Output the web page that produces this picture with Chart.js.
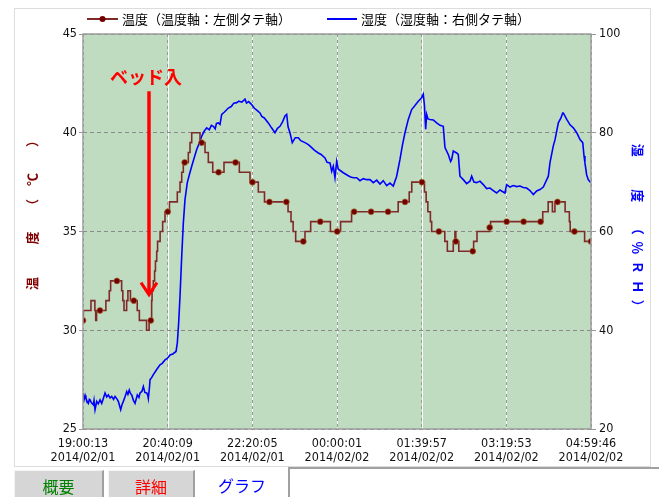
<!DOCTYPE html>
<html><head><meta charset="utf-8">
<script src="https://cdn.jsdelivr.net/npm/chart.js@4/dist/chart.umd.min.js"></script>
<style>
html,body{margin:0;padding:0;background:#fff;}
#wrap{position:relative;width:659px;height:497px;overflow:hidden;background:#fff;}
#c{position:absolute;left:0;top:0;}
.frame{position:absolute;left:14px;top:8px;width:637px;height:459px;border:1px solid #dcdcdc;box-sizing:border-box;}
.tab{position:absolute;top:470px;height:27px;font:16px "Noto Sans CJK JP",sans-serif;text-align:center;line-height:31px;box-sizing:border-box;}
.t1{left:14px;width:90px;background:#d6d6d6;color:#008000;border-top:1px solid #f4f4f4;border-left:1px solid #f4f4f4;border-right:2px solid #a0a0a0;}
.t2{left:108px;width:87px;background:#d6d6d6;color:#ff0000;border-top:1px solid #f4f4f4;border-left:1px solid #f4f4f4;border-right:2px solid #a0a0a0;}
.t3{left:197px;width:90px;background:#fff;color:#0000ff;}
.box{position:absolute;left:288px;top:467px;width:371px;height:30px;border-top:2px solid #a0a0a0;border-left:2px solid #a0a0a0;box-sizing:border-box;background:#fff;}
</style></head>
<body>
<div id="wrap">
<div class="frame"></div>
<canvas id="c" width="659" height="497"></canvas>
<div class="tab t1">概要</div>
<div class="tab t2">詳細</div>
<div class="tab t3">グラフ</div>
<div class="box"></div>
</div>
<script>
// ---- data ----
const tickTimes = ['19:00:13','20:40:09','22:20:05','00:00:01','01:39:57','03:19:53','04:59:46'];
const tickDates = ['2014/02/01','2014/02/01','2014/02/01','2014/02/02','2014/02/02','2014/02/02','2014/02/02'];
const tempTicks = [25, 30, 35, 40, 45];
const humTicks = [20, 40, 60, 80, 100];
const tempLabel = '温度（温度軸：左側タテ軸）';
const humLabel = '湿度（湿度軸：右側タテ軸）';
const tempTitle = '　　　温　　\u2002度　　（　℃　\u2002\u2002）';
const humTitle = '湿　　\u2002度　　（\u2002％\u2002Ｒ\u2002Ｈ\u2002）　';
const bedLabel = 'ベッド入';
// minutes since 19:00:13
const tempMinutes = [0,0.4,9.4,14,15,16,20,27,31,32.6,40,45.6,47,48.4,51.5,53,56,60,64,66.5,75,78,80,
  81,81.5,83,84.5,85.5,87,88,91,94,96.8,100,102,111.3,114.5,116.5,118.4,120,124.3,126.3,128.3,138.1,140,
  144,147.9,153.1,160,166.4,180,184.5,197.1,200,206.9,214.2,220,240,242,245.5,248,251,260,262,268.7,280,
  292,300,304,317,320,340,360,372,380,385,388,400,403,405,407,410,411.5,420,427,430,437,439,440,443.5,
  460,461,465,480,481,500,520,540,542.6,549,554,557,560,569,574,575,580,592,599.5];
const tempValues = [30.5,31.0,31.5,31.0,30.5,31.0,31.0,31.5,32.0,32.5,32.5,32.0,31.5,31.0,31.5,32.0,31.5,31.5,31.0,30.5,30.0,30.5,30.5,
  31.5,32.0,32.5,33.0,33.5,34.0,34.5,35.0,35.5,36.0,36.0,36.5,37.0,37.5,38.0,38.5,38.5,39.0,39.5,40.0,39.5,39.5,
  39.0,38.5,38.0,38.0,38.5,38.5,38.0,37.5,37.5,37.0,36.5,36.5,36.5,36.0,35.5,35.0,34.5,34.5,35.0,35.5,35.5,
  35.0,35.0,35.5,36.0,36.0,36.0,36.0,36.5,36.5,37.0,37.5,37.5,37.0,36.5,36.0,35.5,35.0,35.0,34.5,34.0,34.5,35.0,34.5,34.0,
  34.0,34.5,35.0,35.2,35.5,35.5,35.5,35.5,36.0,36.5,36.0,36.5,36.5,36.0,35.5,35.0,35.0,34.5,34.5];
const humMinutes = [0,1.2,2.5,3.5,5,6.3,7.5,8.3,10,12.2,13,14.2,16.2,18,20.1,22.1,24,26,28,29.9,32,33.9,36,37.8,40,41.7,43,44.5,
  46,47.6,49.5,51.6,53,54.6,56,57.5,59.5,61.4,63,64.1,66,67.3,69.5,71.2,73,75.2,76.5,77.1,78.5,79.1,81,83,86,88,90.9,93.5,
  96.8,99.5,102.7,106,109.8,111.3,112.9,114.5,116.5,118.4,120.4,123.1,125.5,128.3,131,134.2,137,140.1,143,146,149,151.5,
  153.8,156,157.5,159.7,161.7,163.7,167,171.5,175,178,181.4,184,187.5,191.2,193,195.5,199.1,202,205,208.9,211,214,218.7,
  222.5,226.6,229.5,232.5,235.5,238.4,240.4,242,244.3,247,250.5,254.1,257,262,266,269.9,273,277.7,281,285.6,288,291.5,
  293.5,295.4,297.4,299.4,301.3,304,307.2,311.1,315.1,319,323,326.9,330.8,334.8,338.7,342.6,346.6,350.5,354.4,358.4,
  362.3,366.2,370.2,374.1,377,380,383.9,387.9,391.8,395.7,399.7,401.6,403,404.4,405.6,407.2,409.5,413.4,417.4,421.3,
  425.2,427.2,431.1,433.9,435.1,437,441,442.9,444.9,448.8,452.8,456.7,458.7,461.4,464.5,468.5,472.4,476.3,480.3,484.2,
  488.2,492.1,496,498,500,503.9,507.8,511.8,515.7,519.6,523.6,527.5,531.5,535.4,539.3,543.3,547.3,549.2,551.1,555,557.1,
  561,564.1,566.1,566.9,570.9,574.8,578.7,582.7,586.6,589.8,591.3,592.4,594.4,596.3,599.1];
const humValues = [27.3,25.9,26.8,26.2,25.5,25.2,26.0,25.9,25.3,24.9,25.8,23.9,25.6,25.1,25.9,25.2,26.2,27.3,26.5,26.9,26.3,26.6,26.0,26.6,26.1,25.6,24.8,23.9,
  24.9,25.6,26.5,27.6,27.0,27.9,27.2,26.9,25.8,25.2,26.2,26.9,26.4,27.3,27.6,28.6,27.4,27.3,26.8,26.2,28.5,30.0,30.4,31.0,31.8,32.3,33.0,33.3,
  34.0,34.3,35.0,35.2,35.7,37.4,41.5,46.9,55.0,61.7,66.5,69.9,71.5,73.2,74.8,76.6,77.8,79.3,80.3,81.0,80.6,81.5,
  81.3,80.8,81.9,82.0,81.7,83.7,84.2,85.0,85.3,86.0,86.1,86.4,86.2,86.8,86.0,86.3,85.7,85.0,84.6,84.0,83.3,83.0,82.0,
  81.0,80.0,80.9,81.3,82.2,83.4,83.7,81.2,80.0,78.0,79.0,79.0,78.4,78.0,77.6,77.0,76.5,75.9,75.6,74.9,74.0,73.9,
  72.2,73.2,70.9,74.2,72.6,72.3,71.9,71.5,71.1,70.9,70.9,70.3,70.7,70.5,70.5,69.9,70.4,69.6,70.3,69.3,
  69.8,69.2,71.2,74.6,77.5,80.0,82.7,84.7,85.5,86.4,87.1,87.8,85.5,80.7,83.7,82.8,82.7,82.6,82.0,81.5,
  81.3,77.0,75.6,74.2,74.6,76.3,75.9,75.6,71.2,70.5,69.7,70.2,71.2,70.0,69.9,70.2,69.5,68.7,68.8,68.3,
  67.8,68.4,68.0,67.8,69.5,69.0,69.3,69.1,69.2,68.9,68.8,68.3,67.5,68.2,68.5,69.0,70.5,71.2,73.9,77.3,78.6,
  82.0,83.0,84.0,84.0,82.7,81.6,81.0,80.0,78.6,78.0,75.3,73.9,71.5,70.5,69.9];

// ---- helpers ----
function parseMin(t, d) {
  const [Y, M, D] = d.split('/').map(Number);
  const [h, m, s] = t.split(':').map(Number);
  return Date.UTC(Y, M - 1, D, h, m, s) / 60000;
}
const base = parseMin(tickTimes[0], tickDates[0]);
const tickMinutes = tickTimes.map((t, i) => parseMin(t, tickDates[i]) - base);
const lastMin = tempMinutes[tempMinutes.length - 1];
const isMarker = m => Math.abs(m / 20 - Math.round(m / 20)) < 1e-6 || m === lastMin;

const numFont = '"Liberation Sans Narrow","DejaVu Sans Condensed",sans-serif';
const jpFont = '"Noto Sans CJK JP",sans-serif';

const tempData = tempMinutes.map((m, i) => ({x: m, y: tempValues[i]}));
const humData = humMinutes.map((m, i) => ({x: m, y: humValues[i]}));

const bgPlugin = {
  id: 'bg',
  beforeDraw(chart) {
    const {ctx, chartArea: a, scales} = chart;
    ctx.save();
    ctx.fillStyle = '#c0dcc0';
    ctx.fillRect(a.left, a.top, a.right - a.left, a.bottom - a.top);
    ctx.strokeStyle = '#ffffff';
    ctx.lineWidth = 1;
    tickMinutes.forEach(v => {
      const x = Math.round(scales.x.getPixelForValue(v)) + 0.5;
      ctx.beginPath(); ctx.moveTo(x, a.top); ctx.lineTo(x, a.bottom); ctx.stroke();
    });
    ctx.restore();
  },
  afterDraw(chart) {
    const {ctx, chartArea: a, scales} = chart;
    ctx.save();
    // plot frame
    ctx.strokeStyle = '#9c9c9c';
    ctx.lineWidth = 1.5;
    ctx.strokeRect(a.left, a.top, a.right - a.left, a.bottom - a.top);
    // annotation
    const x = scales.x.getPixelForValue(77.9);
    const yTop = scales.yT.getPixelForValue(42.1);
    const yTip = scales.yT.getPixelForValue(31.8);
    ctx.strokeStyle = '#ff0000';
    ctx.lineWidth = 3.5;
    ctx.lineCap = 'butt';
    ctx.beginPath(); ctx.moveTo(x, yTop); ctx.lineTo(x, yTip - 1); ctx.stroke();
    ctx.lineWidth = 3;
    ctx.beginPath(); ctx.moveTo(x - 8, yTip - 12); ctx.lineTo(x, yTip); ctx.lineTo(x + 8, yTip - 12); ctx.stroke();
    ctx.fillStyle = '#ff0000';
    ctx.font = 'bold 18px ' + jpFont;
    ctx.textAlign = 'center';
    ctx.textBaseline = 'middle';
    ctx.fillText(bedLabel, x - 3, scales.yT.getPixelForValue(42.8));
    // legend
    const ds = chart.data.datasets;
    ctx.font = '13px ' + jpFont;
    ctx.textAlign = 'left';
    ctx.fillStyle = '#000';
    const ly = 19;
    let lx = 87;
    ctx.strokeStyle = ds[0].borderColor; ctx.lineWidth = 2;
    ctx.beginPath(); ctx.moveTo(lx, ly); ctx.lineTo(lx + 31, ly); ctx.stroke();
    ctx.fillStyle = ds[0].pointBackgroundColor;
    ctx.beginPath(); ctx.arc(lx + 15.5, ly, 3, 0, Math.PI * 2); ctx.fill();
    ctx.fillStyle = '#000';
    ctx.fillText(ds[0].label, lx + 35, ly);
    lx = lx + 35 + ctx.measureText(ds[0].label).width + 36;
    ctx.strokeStyle = ds[1].borderColor; ctx.lineWidth = 2;
    ctx.beginPath(); ctx.moveTo(lx, ly); ctx.lineTo(lx + 30, ly); ctx.stroke();
    ctx.fillText(ds[1].label, lx + 34, ly);
    ctx.restore();
  }
};

new Chart(document.getElementById('c'), {
  type: 'line',
  data: {
    datasets: [
      {
        label: tempLabel, data: tempData, yAxisID: 'yT',
        borderColor: '#7f2a2a', borderWidth: 1.6, stepped: 'before',
        pointRadius: c => (c.raw && isMarker(c.raw.x)) ? 3 : 0,
        pointBackgroundColor: '#720000', pointBorderColor: 'rgba(170,120,50,0.8)', pointBorderWidth: 0.8,
        fill: false, order: 1
      },
      {
        label: humLabel, data: humData, yAxisID: 'yH',
        borderColor: '#0000ff', borderWidth: 1.6, pointRadius: 0, tension: 0,
        fill: false, order: 2
      }
    ]
  },
  options: {
    responsive: false, animation: false, devicePixelRatio: 1,
    parsing: false,
    layout: {padding: {top: 34, left: 0, right: 0, bottom: 0}},
    plugins: {legend: {display: false}, tooltip: {enabled: false}},
    scales: {
      x: {
        type: 'linear', min: 0, max: tickMinutes[tickMinutes.length - 1],
        afterBuildTicks: s => { s.ticks = tickMinutes.map(v => ({value: v})); },
        afterFit: s => { s.height = 68; },
        ticks: {
          autoSkip: false, maxRotation: 0, padding: 8, color: '#111',
          font: {family: numFont, size: 12.5, lineHeight: 1.12},
          callback: (v, i) => [tickTimes[i], tickDates[i]]
        },
        grid: {color: '#999999', drawTicks: false, lineWidth: 1},
        border: {display: false, dash: [3, 3]}
      },
      yT: {
        type: 'linear', position: 'left', min: tempTicks[0], max: tempTicks[tempTicks.length - 1],
        afterBuildTicks: s => { s.ticks = tempTicks.map(v => ({value: v})); },
        afterFit: s => { s.width = 83; },
        ticks: {padding: 2, color: '#111', font: {family: numFont, size: 12.5}},
        grid: {color: '#8a8a8a', tickColor: '#999', tickLength: 4, tickBorderDash: [], lineWidth: 1},
        border: {display: false, dash: [4, 3]},
        title: {display: true, text: tempTitle, color: '#800000',
          font: {family: jpFont, size: 13, weight: 'bold'}, padding: {top: 24, bottom: 0}}
      },
      yH: {
        type: 'linear', position: 'right', min: humTicks[0], max: humTicks[humTicks.length - 1],
        afterBuildTicks: s => { s.ticks = humTicks.map(v => ({value: v})); },
        afterFit: s => { s.width = 68; },
        ticks: {padding: 3, color: '#111', font: {family: numFont, size: 12.5}},
        grid: {drawOnChartArea: false, tickColor: '#999', tickLength: 5, tickBorderDash: []},
        border: {display: false},
        title: {display: true, text: humTitle, color: '#0000ff',
          font: {family: jpFont, size: 13, weight: 'bold'}, padding: {top: 13, bottom: 0}}
      }
    }
  },
  plugins: [bgPlugin]
});
</script>
</body></html>
